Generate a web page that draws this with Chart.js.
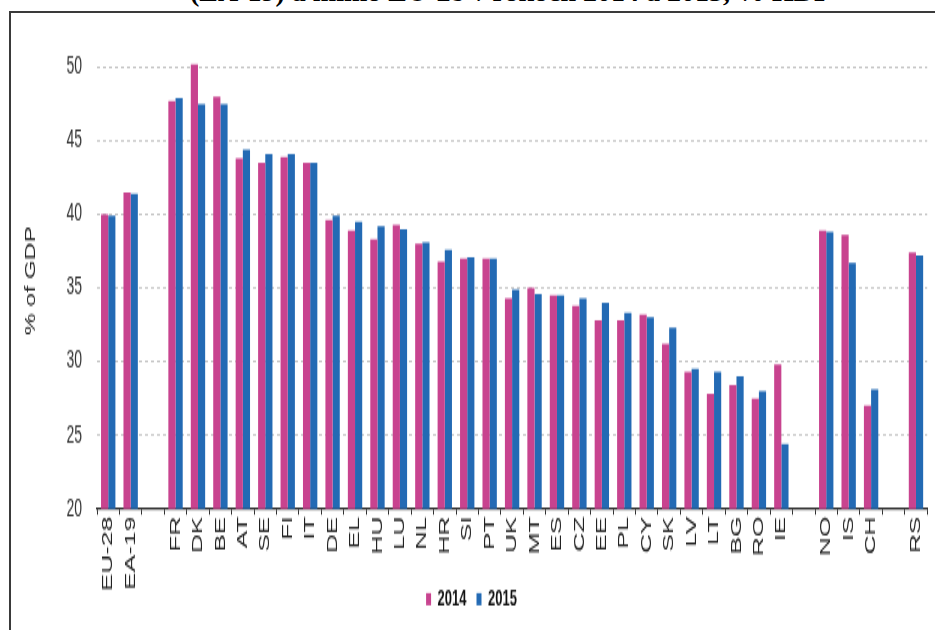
<!DOCTYPE html>
<html>
<head>
<meta charset="utf-8">
<script src="https://cdn.jsdelivr.net/npm/chart.js@4/dist/chart.umd.min.js"></script>
<style>
    body { margin: 0; background: #fff; overflow: hidden; }
    #wrap { position: relative; width: 935px; height: 630px; overflow: hidden; }
    #title {
        position: absolute; top: -24px; left: 190px; white-space: nowrap; line-height: 28px;
        font: bold 28px "Liberation Serif", "Times New Roman", serif; color: #000;
    }
    #frame {
        position: absolute; left: 9px; top: 11px; width: 1000px; height: 700px;
        border: 2px solid #3a3a3a;
    }
    /* the reference image is stretched vertically, so the chart is drawn flat and stretched */
    #stretch { position: absolute; left: 0; top: 0; transform: scale(1, 1.75); transform-origin: 0 0; }
</style>
</head>
<body>
<div id="wrap">
    <div id="title">(EA-19) a mimo EU-28 v rokoch 2014 a 2015, % HDP</div>
    <div id="frame"></div>
    <div id="stretch"><canvas id="chart" width="935" height="360"></canvas></div>
</div>
<script>
// categories ('' = spacer between groups)
const countries = ['EU-28', 'EA-19', '', 'FR', 'DK', 'BE', 'AT', 'SE', 'FI', 'IT', 'DE', 'EL', 'HU', 'LU',
    'NL', 'HR', 'SI', 'PT', 'UK', 'MT', 'ES', 'CZ', 'EE', 'PL', 'CY', 'SK', 'LV', 'LT', 'BG', 'RO', 'IE',
    '', 'NO', 'IS', 'CH', '', 'RS'];

const values2014 = [40.0, 41.5, null, 47.7, 50.2, 48.0, 43.8, 43.5, 43.9, 43.5, 39.6, 38.9, 38.3, 39.3,
    38.0, 36.8, 37.0, 37.0, 34.3, 35.0, 34.5, 33.8, 32.8, 32.8, 33.2, 31.2, 29.3, 27.8, 28.4, 27.5, 29.8,
    null, 38.9, 38.6, 27.0, null, 37.4];

const values2015 = [39.9, 41.4, null, 47.9, 47.5, 47.5, 44.4, 44.1, 44.1, 43.5, 39.9, 39.5, 39.2, 39.0,
    38.1, 37.6, 37.1, 37.0, 34.9, 34.6, 34.5, 34.3, 34.0, 33.3, 33.0, 32.3, 29.5, 29.3, 29.0, 28.0, 24.4,
    null, 38.8, 36.7, 28.1, null, 37.2];

const yTicks = [20, 25, 30, 35, 40, 45, 50];

const sans = '"Liberation Sans", Arial, sans-serif';

// long x labels run a bit past the axis box; don't let the scale clip them
const noLabelClip = {
    id: 'noLabelClip',
    beforeDraw(chart) {
        chart.scales.x._computeLabelArea = () => undefined;
    }
};

new Chart(document.getElementById('chart'), {
    type: 'bar',
    data: {
        labels: countries,
        datasets: [
            { label: '2014', data: values2014, backgroundColor: '#C8438F' },
            { label: '2015', data: values2015, backgroundColor: '#236AB4' }
        ]
    },
    plugins: [noLabelClip],
    options: {
        responsive: false,
        animation: false,
        layout: { padding: { left: 10, right: 2, top: 30, bottom: 1.1 } },
        datasets: { bar: { categoryPercentage: 0.64, barPercentage: 1.0 } },
        plugins: {
            tooltip: { enabled: false },
            legend: {
                position: 'bottom',
                labels: {
                    boxWidth: 5, boxHeight: 7, padding: 10,
                    color: '#111',
                    font: { family: sans, size: 13, weight: 'bold' }
                }
            }
        },
        scales: {
            x: {
                afterFit: s => { s.height = 35.2; },
                border: { display: true, color: '#333', width: 1.2 },
                grid: { display: true, drawOnChartArea: false, drawTicks: true, tickLength: 3.5, color: '#333' },
                ticks: {
                    autoSkip: false, minRotation: 90, maxRotation: 90, padding: 1,
                    color: '#222', font: { family: sans, size: 15 }
                }
            },
            y: {
                min: 20, max: 51,
                afterFit: s => { s.width = 87; },
                afterBuildTicks: s => { s.ticks = yTicks.map(v => ({ value: v })); },
                border: { display: false, dash: [3, 3] },
                grid: { color: '#b8b8b8', drawTicks: false, lineWidth: 0.8 },
                ticks: {
                    padding: 15, color: '#333',
                    font: { family: sans, size: 14 }
                },
                title: {
                    display: true, text: '% of GDP', color: '#222',
                    padding: { top: 13, bottom: 2 },
                    font: { family: sans, size: 14 }
                }
            }
        }
    }
});
</script>
</body>
</html>
